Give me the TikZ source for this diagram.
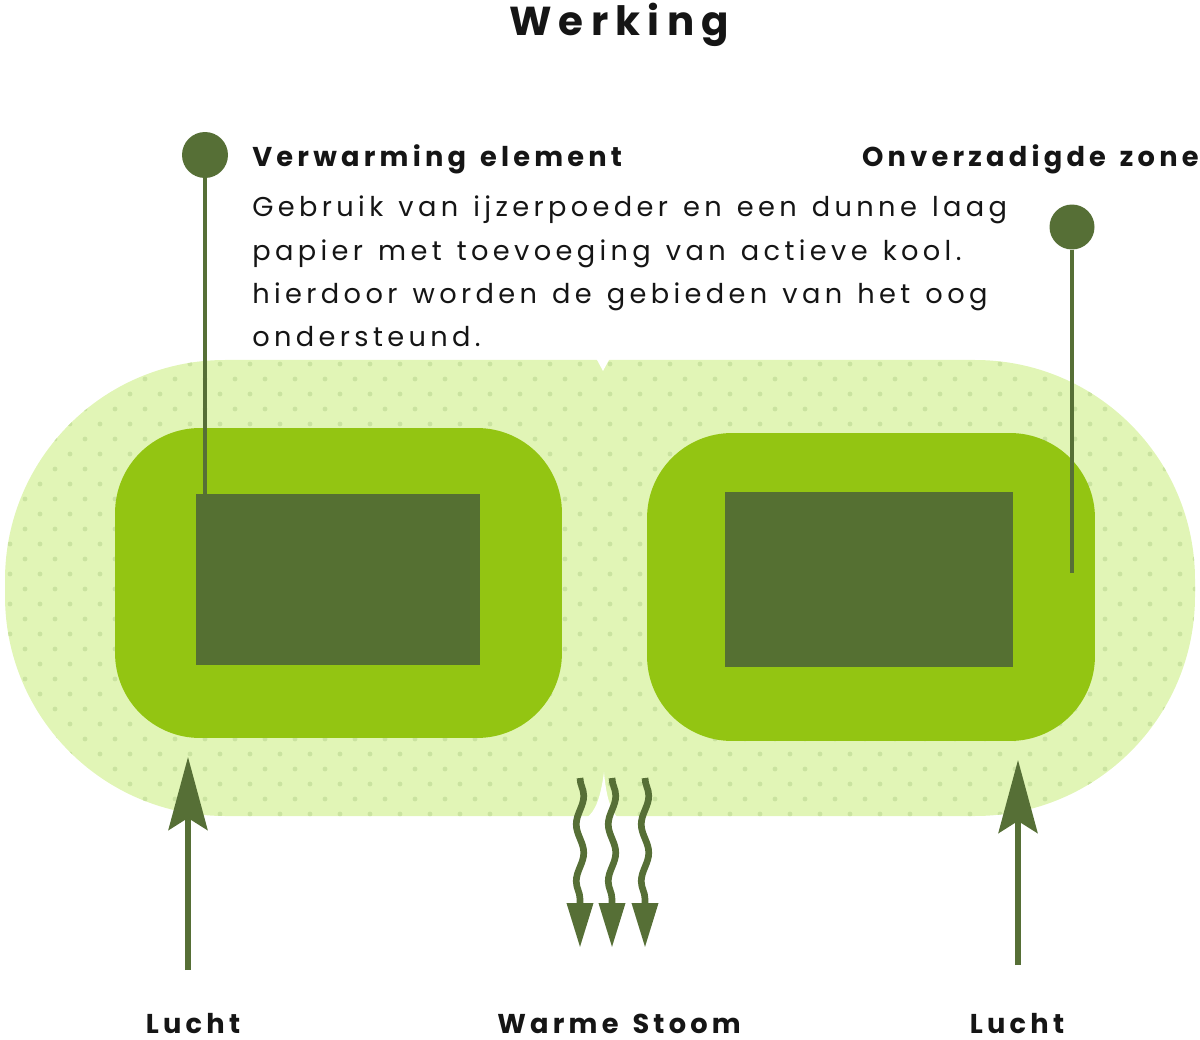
\documentclass[tikz,border=0pt]{standalone}
\usepackage{fontspec}
\setmainfont{Poppins}[LetterSpace=16, WordSpace=1.3]
\newfontfamily\headfont{Poppins}[LetterSpace=15.5, WordSpace=1.4]
\newfontfamily\titlefont{Poppins}[LetterSpace=18]
\usetikzlibrary{arrows.meta,decorations.pathmorphing}
\definecolor{dkgreen}{HTML}{566F36}
\definecolor{padgreen}{HTML}{93C512}
\definecolor{rectgreen}{HTML}{557032}
\definecolor{lightgreen}{HTML}{E1F5B6}
\definecolor{dotgreen}{HTML}{CAE3A0}
\definecolor{txt}{HTML}{151515}
\tikzset{
  pad/.style={fill=padgreen, draw=none, rounded corners=1.7cm, inner sep=0pt},
  core/.style={fill=rectgreen, draw=none, inner sep=0pt},
  pinhead/.style={circle, fill=dkgreen, draw=none, inner sep=0pt, minimum size=0.92cm},
  pinline/.style={draw=dkgreen, line width=1.9pt},
  uparrow/.style={draw=dkgreen, line width=3.3pt, -{Stealth[length=1.46cm, width=0.78cm, inset=0.24cm]}},
  wave/.style={draw=dkgreen, line width=3.8pt, -{Triangle[length=0.9cm, width=0.5cm]},
    decorate, decoration={snake, segment length=1.14cm, amplitude=0.075cm, post length=0.95cm}},
  head/.style={font=\headfont\fontsize{15.5}{18}\selectfont\bfseries, text=txt, inner sep=0pt},
  body/.style={font=\fontsize{15.5}{24.7}\selectfont, text=txt, inner sep=0pt, align=left},
  title/.style={font=\titlefont\fontsize{23}{28}\selectfont\bfseries, text=txt, inner sep=0pt}
}
\begin{document}
\begin{tikzpicture}[x=0.02cm, y=-0.02cm]
\useasboundingbox (0,0) rectangle (1200,1040);
% light blob
\fill[lightgreen, rounded corners=4.4cm] (5,360) rectangle (1195,816);
\begin{scope}
  \clip[rounded corners=4.4cm] (5,360) rectangle (1195,816);
  \foreach \r in {0,...,31} {
    \pgfmathsetmacro{\yy}{364+15*\r}
    \pgfmathsetmacro{\off}{mod(\r,2)*15}
    \foreach \c in {0,...,40} {
      \fill[dotgreen] ({10+\off+30*\c},\yy) circle (2.4);
    }
  }
\end{scope}
% notches
\fill[white] (596,358) -- (603,371) -- (610,358) -- cycle;
\fill[white] (586,818) .. controls (596,812) and (601,795) .. (604,772) .. controls (606,795) and (610,810) .. (618,818) -- cycle;
% pads
\node[pad, minimum width=8.94cm, minimum height=6.2cm] (lpad) at (338.5,583) {};
\node[pad, minimum width=8.96cm, minimum height=6.16cm] (rpad) at (871,587) {};
\node[core, minimum width=5.68cm, minimum height=3.42cm] (lcore) at (338,579.5) {};
\node[core, minimum width=5.76cm, minimum height=3.5cm] (rcore) at (869,579.5) {};
% pins
\node[pinhead] (pinL) at (205,155) {};
\coordinate (pinLend) at (205,494);
\draw[pinline] (pinL) -- (pinLend);
\node[pinhead, minimum size=0.9cm] (pinR) at (1072,227) {};
\coordinate (pinRend) at (1072,573);
\draw[pinline] (pinR) -- (pinRend);
% texts
\node[title, anchor=base] (title) at (619,36) {Werking};
\node[head, anchor=base west] (hL) at (252,167) {Verwarming element};
\node[head, anchor=base east] (hR) at (1199,167) {Onverzadigde zone};
\node[body, anchor=base west] (desc) at (252,347) {Gebruik van ijzerpoeder en een dunne laag\\papier met toevoeging van actieve kool.\\hierdoor worden de gebieden van het oog\\ondersteund.};
% up arrows
\coordinate (aLs) at (188,970);
\coordinate (aLe) at (188,757);
\draw[uparrow] (aLs) -- (aLe);
\coordinate (aRs) at (1018,965);
\coordinate (aRe) at (1018,760);
\draw[uparrow] (aRs) -- (aRe);
% wavy arrows
\coordinate (w1s) at (580,778); \coordinate (w1e) at (580,948);
\coordinate (w2s) at (612,778); \coordinate (w2e) at (612,948);
\coordinate (w3s) at (645,778); \coordinate (w3e) at (645,948);
\draw[wave] (w1s) -- (w1e);
\draw[wave] (w2s) -- (w2e);
\draw[wave] (w3s) -- (w3e);
% bottom labels
\node[head, anchor=base] (l1) at (193,1033) {Lucht};
\node[head, anchor=base] (l2) at (619,1033) {Warme Stoom};
\node[head, anchor=base] (l3) at (1017,1033) {Lucht};
\end{tikzpicture}
\end{document}
